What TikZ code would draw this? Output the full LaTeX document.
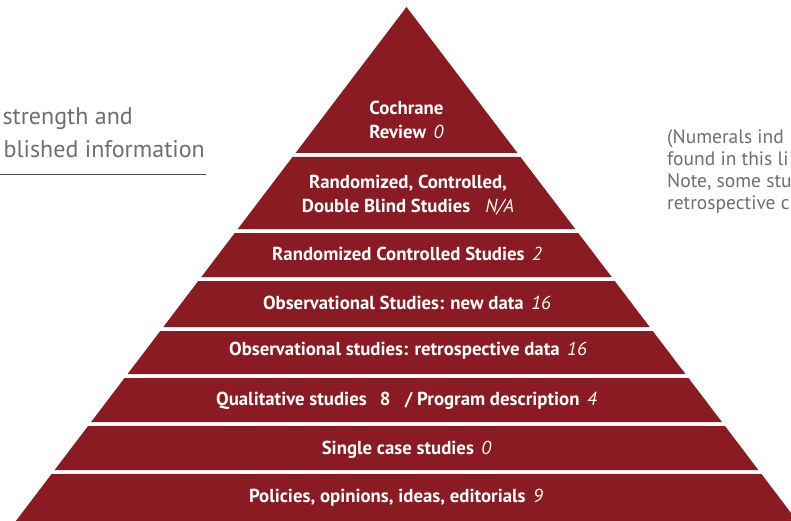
\documentclass[tikz,border=0pt]{standalone}
\usepackage{fontspec}
\setmainfont{PT Sans}

\definecolor{pyrred}{HTML}{8A1B22}
\definecolor{notegray}{HTML}{6D6E71}

% italic count behind a label
\newcommand{\tally}[1]{\hspace{0.4em}{\mdseries\itshape #1}}

\begin{document}
\begin{tikzpicture}[x=1pt,y=-1pt,
    lbl/.style={text=white,font=\fontsize{18.8}{24}\selectfont\bfseries,align=center},
    note/.style={text=notegray,font=\fontsize{19.5}{21}\selectfont},
    side/.style={text=notegray,font=\fontsize{24}{33}\selectfont}]
    \useasboundingbox (0,0) rectangle (791,521);
    \clip (0,0) rectangle (791,521);

    % Bands of the pyramid
    \foreach \t/\b in {7/153,157/229,233/277,281/327,331/374,378/422,426/470,474/540} {
        \fill[pyrred] ({406.5-0.76*(\t-7)},\t) -- ({406.5+0.76*(\t-7)},\t)
            -- ({406.5+0.76*(\b-7)},\b) -- ({406.5-0.76*(\b-7)},\b) -- cycle;
    }

    % Labels
    \node[lbl] (cochrane) at (406.5,120) {Cochrane\\Review\tally{0}};
    \node[lbl] (rcdb) at (408,195) {Randomized, Controlled,\\Double Blind Studies\tally{\hspace{0.4em}N/A}};
    \node[lbl] (rcs) at (407,254) {Randomized Controlled Studies\tally{2}};
    \node[lbl] (obsnew) at (407,303) {Observational Studies: new data\tally{16}};
    \node[lbl] (obsretro) at (408,351) {Observational studies: retrospective data\tally{16}};
    \node[lbl] (qual) at (406.5,401) {Qualitative studies\hspace{0.45em} 8\hspace{0.5em} / Program description\tally{4}};
    \node[lbl] (single) at (406.5,450) {Single case studies\tally{0}};
    \node[lbl] (policies) at (396,498) {Policies, opinions, ideas, editorials\tally{9}};

    % Caption on the left
    \node[side,anchor=base east,inner sep=0pt] (cap1) at (133,125) {strength and};
    \node[side,anchor=base east,inner sep=0pt] (cap2) at (205,158) {blished information};
    \draw[notegray!70!black,line width=1pt] (0,175) -- (206,175);

    % Note on the right
    \node[note,anchor=base west,inner sep=0pt] (note1) at (667,144) {(Numerals ind};
    \node[note,anchor=base west,inner sep=0pt] (note2) at (667,166) {found in this li};
    \node[note,anchor=base west,inner sep=0pt] (note3) at (667,188) {Note, some stu};
    \node[note,anchor=base west,inner sep=0pt] (note4) at (667,210) {retrospective c};
\end{tikzpicture}
\end{document}
